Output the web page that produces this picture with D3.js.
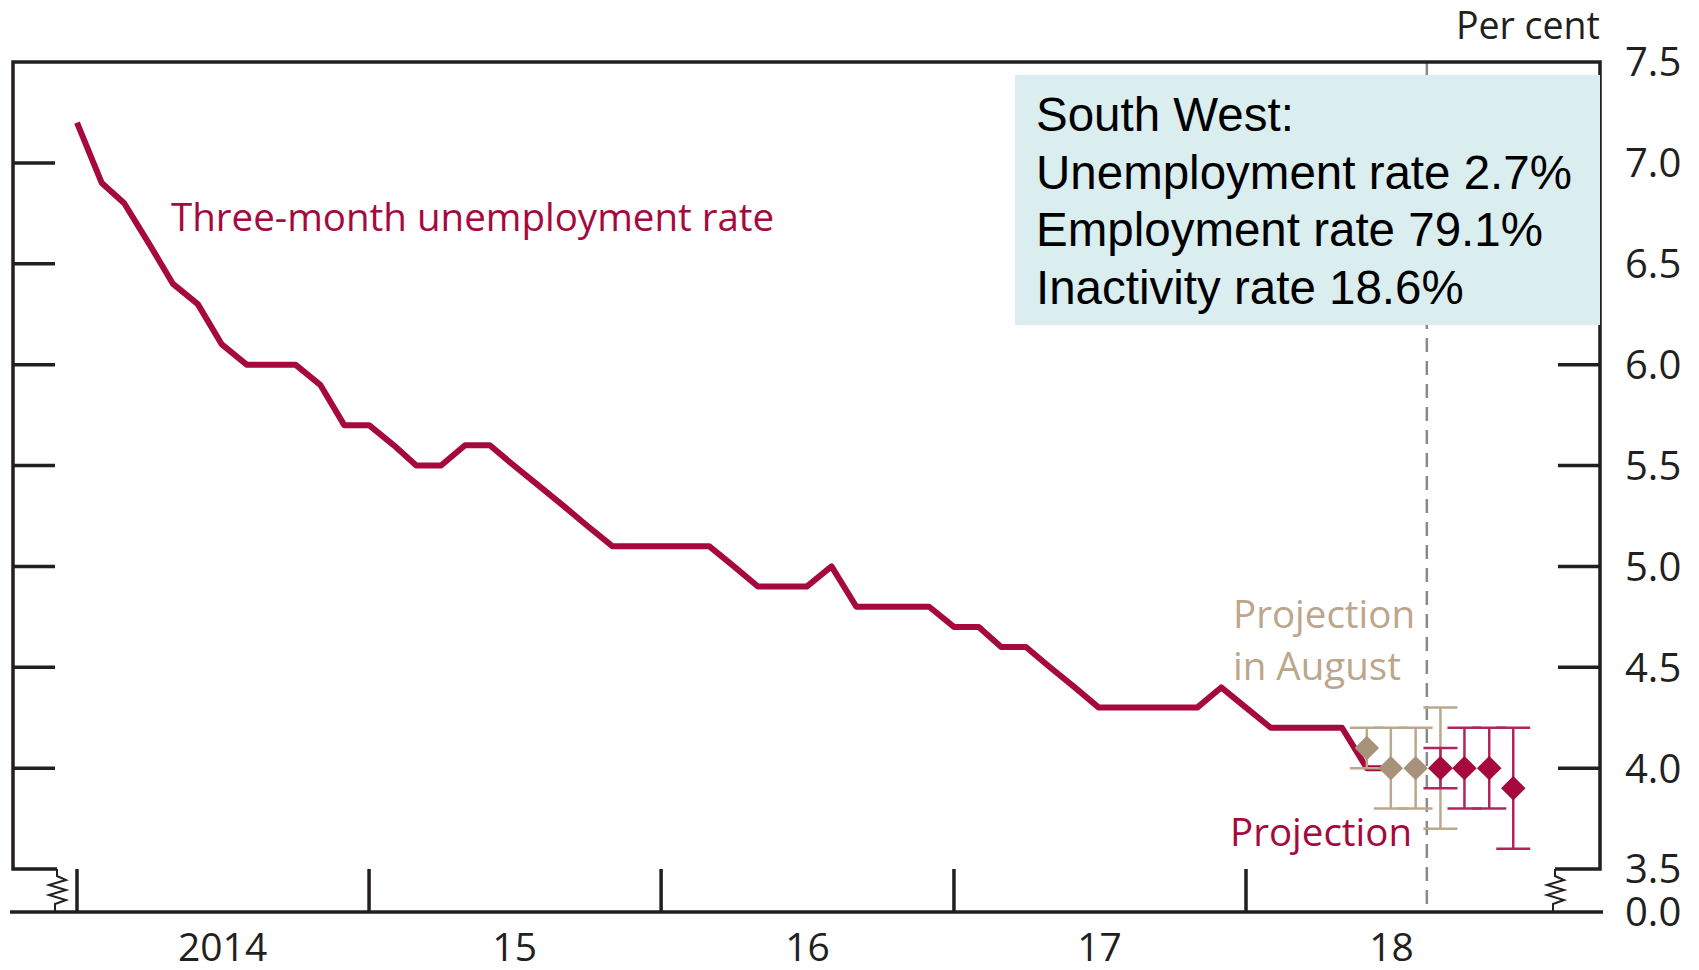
<!DOCTYPE html>
<html>
<head>
<meta charset="utf-8">
<script src="https://cdn.jsdelivr.net/npm/d3@7"></script>
<style>
  body { margin: 0; background: #fff; }
  text { font-family: "Open Sans", sans-serif; }
  text.box { font-family: "Liberation Sans", Arial, sans-serif; }
</style>
</head>
<body>
<svg id="chart"></svg>
<script>
// monthly three-month unemployment rate, starting Jan 2014
const firstMonth = "2014-01";
const unemployment = [
  7.2, 6.9, 6.8, 6.6, 6.4, 6.3, 6.1, 6.0, 6.0, 6.0, 5.9, 5.7,
  5.7, 5.6, 5.5, 5.5, 5.6, 5.6, 5.5, 5.4, 5.3, 5.2, 5.1, 5.1,
  5.1, 5.1, 5.1, 5.0, 4.9, 4.9, 4.9, 5.0, 4.8, 4.8, 4.8, 4.8,
  4.7, 4.7, 4.6, 4.6, 4.5, 4.4, 4.3, 4.3, 4.3, 4.3, 4.3, 4.4,
  4.3, 4.2, 4.2, 4.2, 4.2, 4.0, 4.0
];

// projection made in August
const augustMonths = ["2018-06", "2018-07", "2018-08", "2018-09"];
const augustMid = [4.1, 4.0, 4.0, 4.0];
const augustLow = [4.0, 3.8, 3.8, 3.7];
const augustHigh = [4.2, 4.2, 4.2, 4.3];

// latest projection
const projMonths = ["2018-09", "2018-10", "2018-11", "2018-12"];
const projMid = [4.0, 4.0, 4.0, 3.9];
const projLow = [3.9, 3.8, 3.8, 3.6];
const projHigh = [4.1, 4.2, 4.2, 4.2];

const yearTicks = ["2014", "2015", "2016", "2017", "2018"];
const yearLabels = ["2014", "15", "16", "17", "18"];
const yTicks = [3.5, 4.0, 4.5, 5.0, 5.5, 6.0, 6.5, 7.0, 7.5];
const projectionDate = "2018-08-15";

const boxLines = [
  "South West:",
  "Unemployment rate 2.7%",
  "Employment rate 79.1%",
  "Inactivity rate 18.6%"
];

const red = "#a6093d", redBar = "#b3245a";
const tan = "#a8927a", tanBar = "#bca78f", tanText = "#bca68c";
const ink = "#231f20";

const W = 1699, H = 970;
const left = 13, right = 1600, base = 912;

const svg = d3.select("#chart").attr("width", W).attr("height", H);

const parseM = d3.timeParse("%Y-%m");
const parseD = d3.timeParse("%Y-%m-%d");

const x = d3.scaleTime()
  .domain([parseM("2014-01"), parseM("2018-01")])
  .range([77, 1246]);

const y = d3.scaleLinear()
  .domain([3.5, 7.5])
  .range([869, 62]);

const start = parseM(firstMonth);
const series = unemployment.map((v, i) => ({ date: d3.timeMonth.offset(start, i), value: v }));

const aug = augustMonths.map((m, i) => ({ date: parseM(m), mid: augustMid[i], lo: augustLow[i], hi: augustHigh[i] }));
const proj = projMonths.map((m, i) => ({ date: parseM(m), mid: projMid[i], lo: projLow[i], hi: projHigh[i] }));

const yTop = y(7.5), yBreak = y(3.5);

// dashed line marking the projection start
svg.append("line")
  .attr("x1", x(parseD(projectionDate))).attr("x2", x(parseD(projectionDate)))
  .attr("y1", yTop).attr("y2", base)
  .attr("stroke", "#8a8a8a").attr("stroke-width", 2.5)
  .attr("stroke-dasharray", "14,9");

// frame
const frame = svg.append("g").attr("fill", "none").attr("stroke", ink);
frame.append("path")
  .attr("stroke-width", 3.5)
  .attr("d", `M57,${yBreak}H${left}V${yTop}H${right}V${yBreak}H1555`);
frame.append("line")
  .attr("stroke-width", 3.5)
  .attr("x1", 10).attr("x2", 1603).attr("y1", base).attr("y2", base);

// axis break zigzags
function zig(cx) {
  return `M${cx},${yBreak}V${yBreak + 7}L${cx + 9},${yBreak + 11}L${cx - 8},${yBreak + 16}` +
    `L${cx + 9},${yBreak + 21}L${cx - 8},${yBreak + 26}L${cx + 9},${yBreak + 31}L${cx - 2},${yBreak + 35}V${base}`;
}
frame.append("path").attr("stroke-width", 2).attr("d", zig(57));
frame.append("path").attr("stroke-width", 2).attr("d", zig(1555));

// y ticks on both sides
const inner = yTicks.filter(v => v > 3.5 && v < 7.5);
frame.selectAll(".lt").data(inner).join("line")
  .attr("stroke-width", 3.5)
  .attr("x1", left).attr("x2", left + 42)
  .attr("y1", d => y(d)).attr("y2", d => y(d));
frame.selectAll(".rt").data(inner).join("line")
  .attr("stroke-width", 3.5)
  .attr("x1", right - 42).attr("x2", right)
  .attr("y1", d => y(d)).attr("y2", d => y(d));

// x ticks (January of each year)
frame.selectAll(".xt").data(yearTicks).join("line")
  .attr("stroke-width", 3.5)
  .attr("x1", d => x(parseM(d + "-01"))).attr("x2", d => x(parseM(d + "-01")))
  .attr("y1", yBreak).attr("y2", base);

// x labels centred in each year
svg.selectAll(".xl").data(yearTicks).join("text")
  .attr("x", d => x(parseD(d + "-07-02")))
  .attr("y", 961)
  .attr("text-anchor", "middle")
  .attr("font-size", 39)
  .attr("fill", ink)
  .text((d, i) => yearLabels[i]);

// y labels on the right
svg.selectAll(".yl").data(yTicks).join("text")
  .attr("x", 1625)
  .attr("y", d => y(d))
  .attr("dy", "0.36em")
  .attr("font-size", 40)
  .attr("fill", ink)
  .text(d => d.toFixed(1));
svg.append("text")
  .attr("x", 1625).attr("y", base).attr("dy", "0.36em")
  .attr("font-size", 40).attr("fill", ink)
  .text("0.0");

svg.append("text")
  .attr("x", right).attr("y", 39)
  .attr("text-anchor", "end")
  .attr("font-size", 37.5).attr("fill", ink)
  .text("Per cent");

// main line
svg.append("path")
  .datum(series)
  .attr("fill", "none")
  .attr("stroke", red)
  .attr("stroke-width", 6)
  .attr("stroke-linejoin", "round")
  .attr("d", d3.line().x(d => x(d.date)).y(d => y(d.value)));

// error bars + diamonds
function drawProjection(data, barColor, fill) {
  const g = svg.append("g");
  g.selectAll(".v").data(data).join("line")
    .attr("stroke", barColor).attr("stroke-width", 2.5)
    .attr("x1", d => x(d.date)).attr("x2", d => x(d.date))
    .attr("y1", d => y(d.lo)).attr("y2", d => y(d.hi));
  ["lo", "hi"].forEach(k => {
    g.selectAll(".c" + k).data(data).join("line")
      .attr("stroke", barColor).attr("stroke-width", 2.5)
      .attr("x1", d => x(d.date) - 17).attr("x2", d => x(d.date) + 17)
      .attr("y1", d => y(d[k])).attr("y2", d => y(d[k]));
  });
  g.selectAll(".d").data(data).join("path")
    .attr("fill", fill)
    .attr("transform", d => `translate(${x(d.date)},${y(d.mid)}) rotate(45)`)
    .attr("d", d3.symbol(d3.symbolSquare, 300)());
}
drawProjection(aug, tanBar, tan);
drawProjection(proj, redBar, red);

// annotations
svg.append("text")
  .attr("x", 171).attr("y", 231)
  .attr("font-size", 38.5).attr("fill", red)
  .text("Three-month unemployment rate");

const augLabel = svg.append("text")
  .attr("font-size", 38.5).attr("fill", tanText);
augLabel.append("tspan").attr("x", 1233).attr("y", 628).text("Projection");
augLabel.append("tspan").attr("x", 1233).attr("y", 680).text("in August");

svg.append("text")
  .attr("x", 1230).attr("y", 846)
  .attr("font-size", 38.5).attr("fill", red)
  .text("Projection");

// info box
svg.append("rect")
  .attr("x", 1015).attr("y", 75)
  .attr("width", 585).attr("height", 250)
  .attr("fill", "#daedef");

svg.append("g").selectAll("text").data(boxLines).join("text")
  .attr("class", "box")
  .attr("x", 1036)
  .attr("y", (d, i) => 131 + i * 57.5)
  .attr("font-size", 47.5)
  .attr("fill", "#000")
  .text(d => d);
</script>
</body>
</html>
